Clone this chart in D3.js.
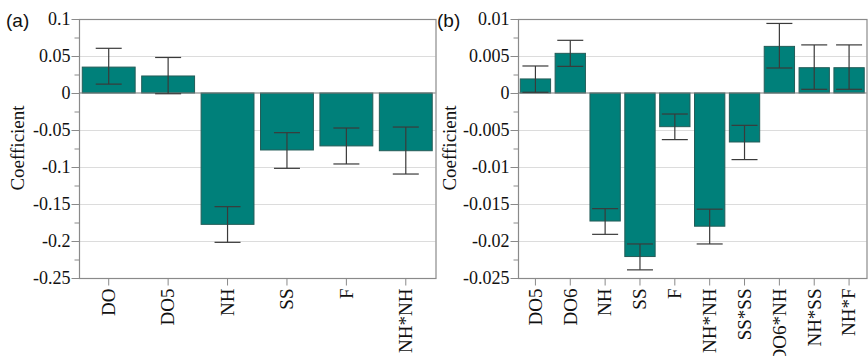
<!DOCTYPE html>
<html lang="en">
<head>
    <meta charset="utf-8"/>
    <title>Coefficients</title>
    <style>
        body { margin: 0; background: #fff; }
        .grid line { stroke: #dcdcdc; stroke-width: 1px; }
        .bar { fill: #00807a; stroke: #245c58; stroke-width: 1px; }
        .err { stroke: #3a3a3a; stroke-width: 1.2px; fill: none; }
    </style>
</head>
<body>
<div id="viz"></div>
<script src="https://cdnjs.cloudflare.com/ajax/libs/d3/7.8.5/d3.min.js"></script>
<script>
    // panel (a)
    var catsA = ["DO", "DO5", "NH", "SS", "F", "NH*NH"];
    var valsA = [0.035, 0.023, -0.1775, -0.077, -0.0715, -0.078];
    var loA = [0.012, -0.001, -0.2018, -0.1018, -0.0959, -0.1095];
    var hiA = [0.0604, 0.048, -0.1536, -0.0536, -0.0473, -0.046];
    var ticksA = [0.1, 0.05, 0, -0.05, -0.1, -0.15, -0.2, -0.25];

    // panel (b)
    var catsB = ["DO5", "DO6", "NH", "SS", "F", "NH*NH", "SS*SS", "DO6*NH", "NH*SS", "NH*F"];
    var valsB = [0.0019, 0.00536, -0.0173, -0.0221, -0.00455, -0.018, -0.00662, 0.0063, 0.00342, 0.00342];
    var loB = [0.0001, 0.0036, -0.0191, -0.0239, -0.0063, -0.0204, -0.009, 0.00338, 0.0005, 0.0005];
    var hiB = [0.00365, 0.00712, -0.01563, -0.0204, -0.00284, -0.0157, -0.00437, 0.0094, 0.0065, 0.0065];
    var ticksB = [0.01, 0.005, 0, -0.005, -0.01, -0.015, -0.02, -0.025];

    var SERIF = '"Liberation Serif", "Times New Roman", Times, "DejaVu Serif", serif';
    var SANS = '"Liberation Sans", Arial, Helvetica, sans-serif';

    var W = 868, H = 356;
    var svg = d3.select("#viz").append("svg")
        .attr("width", W)
        .attr("height", H);

    function fmt(v) {
        if (v === 0) return "0";
        return String(+v.toFixed(4));
    }

    function panel(opt) {
        var x = d3.scaleBand()
            .domain(opt.cats)
            .range([opt.left, opt.right])
            .paddingInner(opt.pad)
            .paddingOuter(opt.pad / 2);
        var y = d3.scaleLinear()
            .domain([opt.min, opt.max])
            .range([opt.bottom, opt.top]);

        var g = svg.append("g");

        // grid lines
        g.append("g").attr("class", "grid")
            .selectAll("line")
            .data(opt.ticks.filter(function(t) { return t !== 0 && t !== opt.max && t !== opt.min; }))
            .enter().append("line")
            .attr("x1", opt.left).attr("x2", opt.right)
            .attr("y1", function(d) { return Math.round(y(d)) + 0.5; })
            .attr("y2", function(d) { return Math.round(y(d)) + 0.5; });

        // frame
        g.append("rect")
            .attr("x", opt.left + 0.5).attr("y", Math.round(opt.top) + 0.5)
            .attr("width", opt.right - opt.left).attr("height", Math.round(opt.bottom - opt.top))
            .attr("fill", "none").attr("stroke", "#8a8a8a").attr("stroke-width", 1.2);

        // bars
        g.selectAll(".bar")
            .data(opt.vals)
            .enter().append("rect")
            .attr("class", "bar")
            .attr("x", function(d, i) { return x(opt.cats[i]); })
            .attr("width", x.bandwidth())
            .attr("y", function(d) { return y(Math.max(0, d)); })
            .attr("height", function(d) { return Math.abs(y(d) - y(0)); });

        // zero line
        g.append("line")
            .attr("x1", opt.left).attr("x2", opt.right)
            .attr("y1", y(0)).attr("y2", y(0))
            .attr("stroke", "#7a7a7a").attr("stroke-width", 1.2);

        // error bars
        var cap = opt.cap;
        var eb = g.selectAll(".eb")
            .data(opt.vals)
            .enter().append("g")
            .attr("class", "err")
            .attr("transform", function(d, i) { return "translate(" + (x(opt.cats[i]) + x.bandwidth() / 2) + ",0)"; });
        eb.append("line")
            .attr("y1", function(d, i) { return y(opt.lo[i]); })
            .attr("y2", function(d, i) { return y(opt.hi[i]); });
        eb.append("line")
            .attr("x1", -cap).attr("x2", cap)
            .attr("y1", function(d, i) { return y(opt.lo[i]); })
            .attr("y2", function(d, i) { return y(opt.lo[i]); });
        eb.append("line")
            .attr("x1", -cap).attr("x2", cap)
            .attr("y1", function(d, i) { return y(opt.hi[i]); })
            .attr("y2", function(d, i) { return y(opt.hi[i]); });

        // y axis: minor ticks, then major ticks with labels
        var minor = d3.range(0, opt.ticks.length * 2 - 1).map(function(k) { return opt.max - k * (opt.max - opt.min) / ((opt.ticks.length - 1) * 2); });
        g.append("g")
            .attr("transform", "translate(" + (opt.left + 0.5) + ",0)")
            .call(d3.axisLeft(y).tickValues(minor).tickSize(5).tickFormat(""))
            .call(function(a) { a.select(".domain").remove(); a.selectAll("line").attr("stroke", "#8a8a8a"); });
        g.append("g")
            .attr("transform", "translate(" + (opt.left + 0.5) + ",0)")
            .call(d3.axisLeft(y).tickValues(opt.ticks).tickSize(8).tickPadding(1).tickFormat(fmt))
            .call(function(a) {
                a.select(".domain").remove();
                a.selectAll("line").attr("stroke", "#8a8a8a");
                a.selectAll("text").attr("fill", "#111")
                    .style("font-family", SERIF).style("font-size", "18px");
            });

        // x axis
        var xa = g.append("g")
            .attr("transform", "translate(0," + (Math.round(opt.bottom) + 0.5) + ")")
            .call(d3.axisBottom(x).tickSize(7).tickPadding(6))
            .call(function(a) {
                a.select(".domain").remove();
                a.selectAll("line").attr("stroke", "#8a8a8a");
            });
        xa.selectAll("text")
            .style("font-family", SERIF).style("font-size", "19px")
            .attr("fill", "#111")
            .attr("transform", "rotate(-90)")
            .attr("text-anchor", "end")
            .attr("x", -10)
            .attr("y", 0)
            .attr("dy", "0.33em");

        // titles
        svg.append("text")
            .style("font-family", SANS).style("font-size", "19px")
            .attr("fill", "#111")
            .attr("x", opt.labelX).attr("y", 27)
            .text(opt.label);
        svg.append("text")
            .style("font-family", SERIF).style("font-size", "19px")
            .attr("fill", "#111")
            .attr("transform", "translate(" + opt.titleX + "," + 148 + ")rotate(-90)")
            .attr("text-anchor", "middle")
            .text("Coefficient");
    }

    panel({
        cats: catsA, vals: valsA, lo: loA, hi: hiA, ticks: ticksA,
        min: -0.25, max: 0.1, left: 79, right: 435.5, top: 19, bottom: 278,
        pad: 0.11, cap: 13, label: "(a)", labelX: 6, titleX: 24
    });
    panel({
        cats: catsB, vals: valsB, lo: loB, hi: hiB, ticks: ticksB,
        min: -0.025, max: 0.01, left: 518, right: 866.5, top: 19, bottom: 278,
        pad: 0.13, cap: 13, label: "(b)", labelX: 437, titleX: 456
    });
</script>
</body>
</html>
